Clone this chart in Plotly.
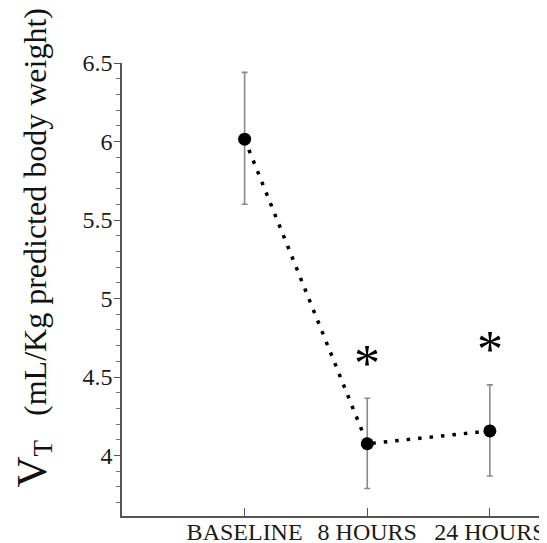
import plotly.graph_objects as go

categories = ["BASELINE", "8 HOURS", "24 HOURS"]
vt_mean = [6.015, 4.075, 4.157]
err_plus = [0.425, 0.29, 0.293]
err_minus = [0.415, 0.285, 0.287]
asterisk_y = [None, 4.63, 4.72]

fig = go.Figure()
fig.add_trace(go.Scatter(
    x=categories, y=vt_mean,
    mode="lines+markers",
    line=dict(color="black", width=3.5, dash="3.5px,8px"),
    marker=dict(color="black", size=13),
    error_y=dict(type="data", symmetric=False, array=err_plus, arrayminus=err_minus,
                 color="#8a8a8a", thickness=1.6, width=3),
    showlegend=False,
))

for c, y in zip(categories, asterisk_y):
    if y is None:
        continue
    fig.add_annotation(x=c, y=y, xref="x", yref="y", text="*", showarrow=False,
                       font=dict(family="Liberation Serif", size=52, color="black"),
                       yshift=-7)

fig.add_annotation(
    xref="paper", yref="paper", x=-0.2094, y=0.5905,
    xanchor="center", yanchor="middle",
    text="<span style='font-size:43px'>V</span><sub><span style='font-size:27px'>T</span></sub>"
         "&nbsp;&nbsp;&nbsp;(mL/Kg predicted body weight)",
    textangle=-90, showarrow=False,
    font=dict(family="Liberation Serif", size=32, color="#111"),
)

fig.update_layout(
    width=539, height=535,
    margin=dict(l=114, r=0, t=55, b=27, autoexpand=False),
    paper_bgcolor="white", plot_bgcolor="white",
    font=dict(family="Liberation Serif", color="#222"),
)
fig.update_xaxes(
    type="category", range=[-1.0, 2.466], automargin=False,
    showline=True, linecolor="#555", linewidth=1.5,
    ticks="inside", ticklen=8, tickcolor="#555", tickwidth=1.2,
    tickfont=dict(family="Liberation Serif", size=24, color="#1a1a1a"),
    ticklabelstandoff=-7,
    showgrid=False, zeroline=False,
)
fig.update_yaxes(
    range=[3.615, 6.5], dtick=0.5, tick0=4, automargin=False,
    showline=True, linecolor="#555", linewidth=1.5,
    ticks="outside", ticklen=6, tickcolor="#555", tickwidth=1.2,
    minor=dict(dtick=0.1, ticks="outside", ticklen=4, tickcolor="#777", tickwidth=1),
    tickfont=dict(family="Liberation Serif", size=24, color="#1a1a1a"),
    ticklabelstandoff=-3,
    showgrid=False, zeroline=False,
)

fig.write_html("out.html")
